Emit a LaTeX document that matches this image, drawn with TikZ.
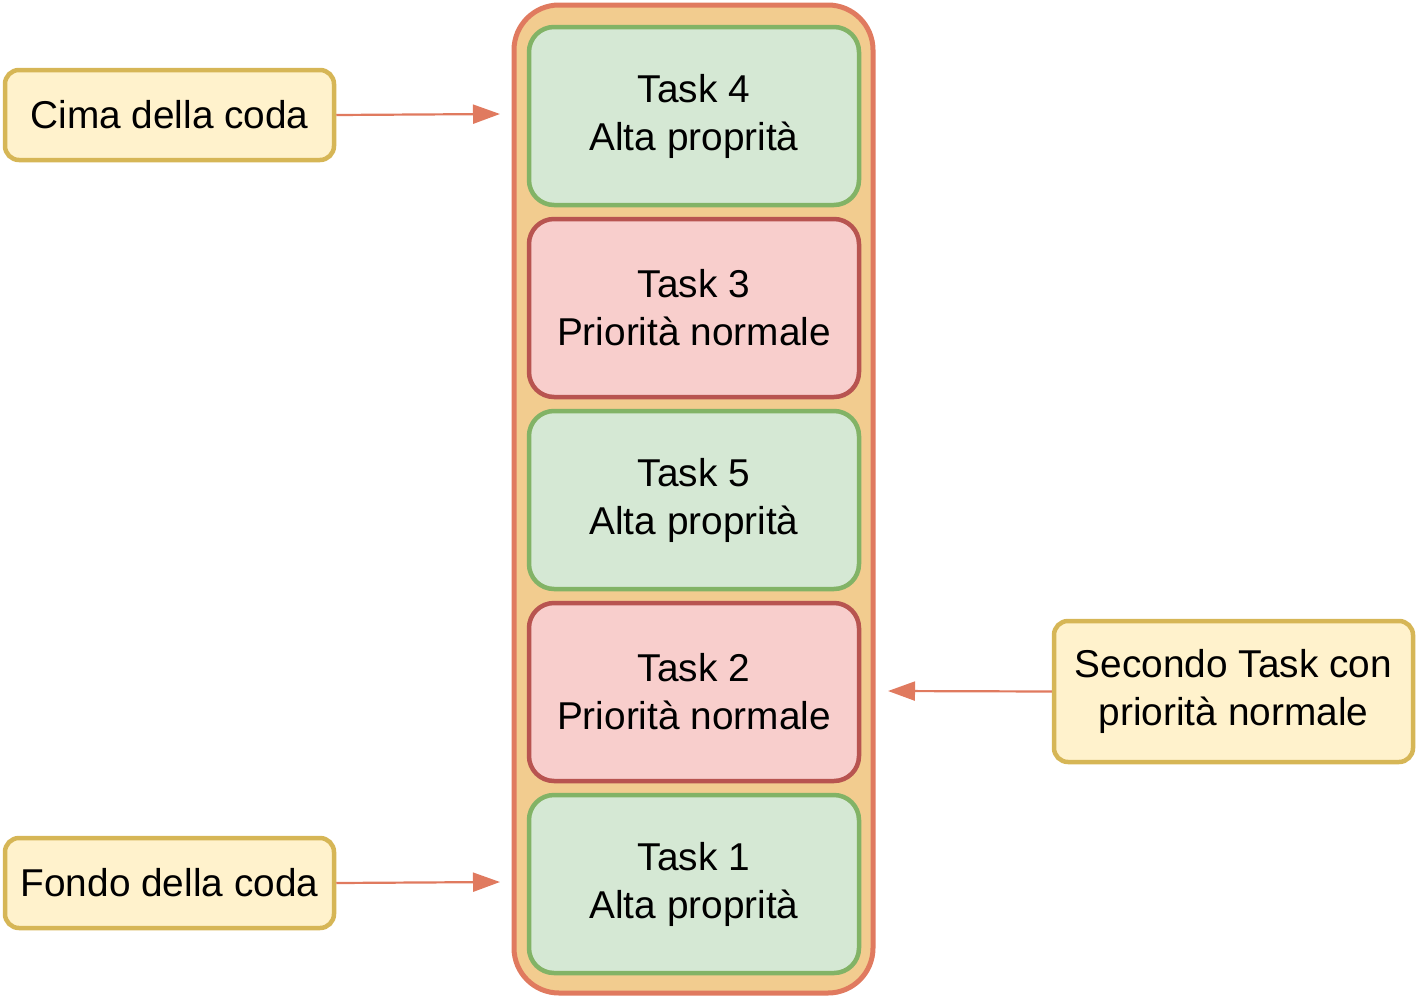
\documentclass[tikz,border=0pt]{standalone}
\usepackage{fontspec}
\setmainfont{Liberation Sans}
\usetikzlibrary{arrows.meta}
\definecolor{outerstroke}{HTML}{E07A5F}
\definecolor{outerfill}{HTML}{F2CC8F}
\definecolor{greenfill}{HTML}{D5E8D4}
\definecolor{greenstroke}{HTML}{82B366}
\definecolor{redfill}{HTML}{F8CECC}
\definecolor{redstroke}{HTML}{B85450}
\definecolor{notefill}{HTML}{FFF2CC}
\definecolor{notestroke}{HTML}{D6B656}
\tikzset{
  txt/.style={font=\fontsize{38.8}{48}\selectfont, align=center, text=black},
  greenbox/.style={draw=greenstroke, fill=greenfill, line width=4.5pt, rounded corners=25pt, minimum width=330pt, minimum height=178pt, txt},
  redbox/.style={draw=redstroke, fill=redfill, line width=4.5pt, rounded corners=25pt, minimum width=330pt, minimum height=178pt, txt},
  notebox/.style={draw=notestroke, fill=notefill, line width=4.5pt, rounded corners=14pt, txt},
  conn/.style={draw=outerstroke, line width=2.2pt, -{Triangle[length=27pt,width=19pt]}}
}
\begin{document}
\begin{tikzpicture}[x=1pt,y=-1pt]
\useasboundingbox (0,0) rectangle (1416,996);
\node[draw=outerstroke, fill=outerfill, line width=5pt, rounded corners=45pt, minimum width=359pt, minimum height=988pt] (queue) at (693.5,499) {};
\node[greenbox] (t4) at (694,116) {Task 4\\Alta proprità};
\node[redbox] (t3) at (694,308) {Task 3\\Priorità normale};
\node[greenbox] (t5) at (694,500) {Task 5\\Alta proprità};
\node[redbox] (t2) at (694,692) {Task 2\\Priorità normale};
\node[greenbox] (t1) at (694,884) {Task 1\\Alta proprità};
\node[notebox, minimum width=329pt, minimum height=90pt] (top) at (169.5,115) {Cima della coda};
\node[notebox, minimum width=329pt, minimum height=90pt] (bottom) at (169.5,883) {Fondo della coda};
\node[notebox, minimum width=359pt, minimum height=141pt] (second) at (1233.5,691.5) {Secondo Task con\\priorità normale};
\coordinate (topend) at (500,114);
\coordinate (bottomend) at (500,882);
\coordinate (secondend) at (888,691);
\draw[conn] (top.east) -- (topend);
\draw[conn] (bottom.east) -- (bottomend);
\draw[conn] (second.west) -- (secondend);
\end{tikzpicture}
\end{document}
